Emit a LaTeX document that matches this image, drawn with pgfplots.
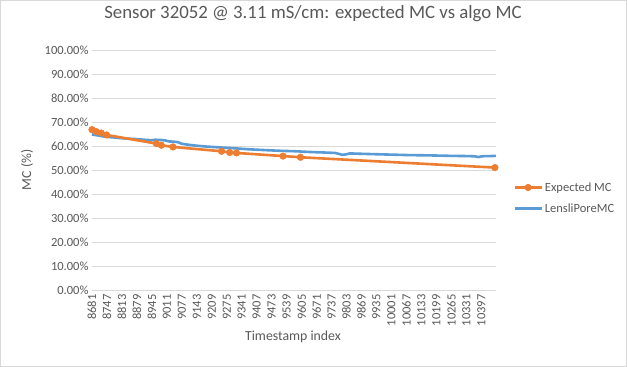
\documentclass[border=0pt]{standalone}
\usepackage{pgfplots}
\pgfplotsset{compat=1.18}
\usepackage{fontspec}
\setmainfont{Carlito}
\definecolor{xorange}{HTML}{ED7D31}
\definecolor{xblue}{HTML}{5B9BD5}
\definecolor{xgrid}{HTML}{D9D9D9}
\definecolor{xtext}{HTML}{595959}
\begin{document}
\begin{tikzpicture}[x=1bp,y=1bp]
\draw[xgrid,line width=0.75bp,fill=white] (0.4,0.4) rectangle (626.6,366.6);
\begin{axis}[
  at={(92bp,77bp)}, anchor=south west,
  scale only axis, width=404bp, height=240bp,
  xmin=8681, xmax=10462, ymin=0, ymax=100,
  xtick={8681,8747,...,10397},
  ytick={0,10,...,100},
  scaled x ticks=false,
  /pgf/number format/assume math mode=true,
  /pgf/number format/1000 sep={},
  xticklabel={\pgfmathprintnumber[fixed,precision=0,1000 sep={}]{\tick}},
  yticklabel={\pgfmathprintnumber[fixed,fixed zerofill,precision=2]{\tick}\%},
  xticklabel style={rotate=90, anchor=east, font=\fontsize{12.5bp}{12.5bp}\selectfont, text=xtext, xshift=-1bp},
  yticklabel style={font=\fontsize{12.5bp}{12.5bp}\selectfont, text=xtext},
  major tick length=0pt,
  ymajorgrids, grid style={xgrid, line width=0.75bp},
  axis line style={draw=none},
  title={Sensor 32052 @ 3.11 mS/cm: expected MC vs algo MC},
  title style={at={(axis description cs:0.547,1.125)}, anchor=center, font=\fontsize{18.8bp}{18.8bp}\selectfont, text=xtext},
  xlabel={Timestamp index},
  xlabel style={at={(axis description cs:0.4975,-0.196)}, anchor=center, font=\fontsize{13.8bp}{13.8bp}\selectfont, text=xtext},
  ylabel={MC (\%)},
  ylabel style={at={(axis description cs:-0.161,0.5)}, anchor=center, rotate=0, font=\fontsize{13.8bp}{13.8bp}\selectfont, text=xtext},
  legend style={at={(axis description cs:1.035,0.383)}, anchor=west, draw=none, fill=none,
    font=\fontsize{12.5bp}{12.5bp}\selectfont, text=xtext, row sep=7bp,
    legend cell align=left},
  legend image code/.code={\draw[mark repeat=2,mark phase=2] plot coordinates {(0bp,0bp) (13.5bp,0bp) (27bp,0bp)};},
  reverse legend,
  clip=false,
]
\addplot[xblue, line width=2.6bp, line join=round] coordinates {
(8681,64.8) (8700,64.5) (8730,64.0) (8760,63.7) (8794,63.4) (8830,63.1)
(8870,62.9) (8910,62.6) (8944,62.4) (8960,62.6) (8985,62.5) (9005,62.3)
(9020,61.9) (9040,61.8) (9060,61.6) (9077,60.9) (9100,60.6) (9134,60.2)
(9180,59.8) (9244,59.4) (9300,59.1) (9376,58.6) (9440,58.3) (9509,58.0)
(9580,57.8) (9641,57.5) (9700,57.3) (9752,57.1) (9770,56.7) (9785,56.3)
(9800,56.5) (9817,56.9) (9850,56.8) (9920,56.6) (10000,56.4) (10080,56.2)
(10160,56.1) (10258,55.9) (10330,55.8) (10368,55.7) (10385,55.4) (10395,55.6)
(10412,55.8) (10440,55.8) (10461,55.9)
};
\addlegendentry{LensliPoreMC}
\addplot[xorange, line width=2.6bp, line join=round, mark=*, mark size=3.3bp, mark options={fill=xorange, draw=xorange, line width=0.5bp}] coordinates {
(8681,66.8) (8700,66.0) (8722,65.4) (8745,64.6) (8965,61.0) (8987,60.3)
(9038,59.6) (9252,57.8) (9288,57.3) (9318,57.1) (9523,55.8) (9600,55.3)
(10457,51.0)
};
\addlegendentry{Expected MC}
\end{axis}
\end{tikzpicture}
\end{document}
